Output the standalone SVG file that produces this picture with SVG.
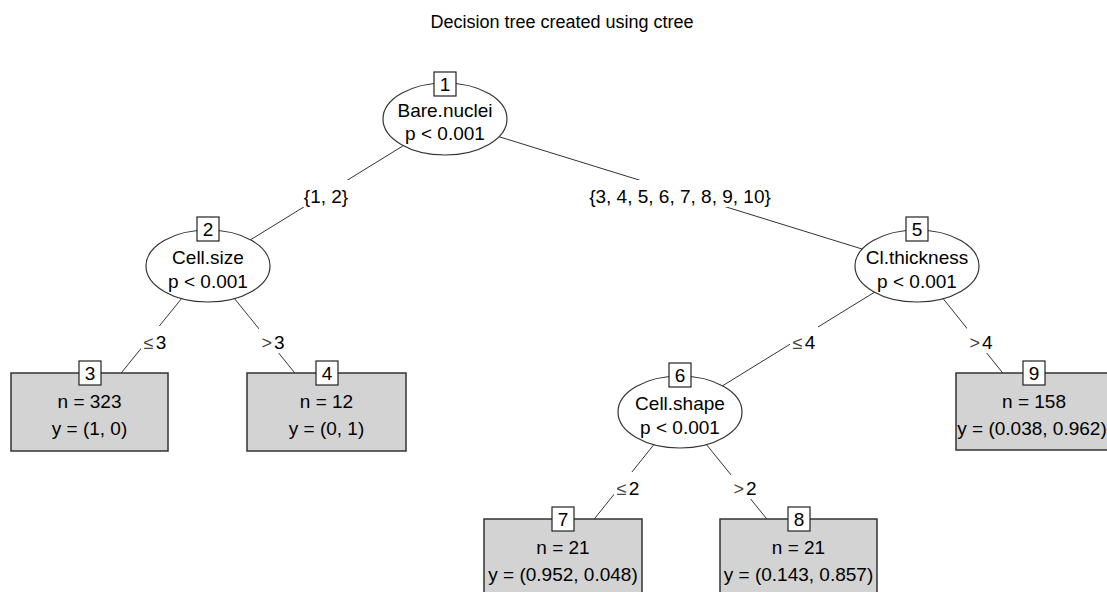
<svg xmlns="http://www.w3.org/2000/svg" width="1107" height="592" viewBox="0 0 1107 592">
  <style>
    text { font-family: "Liberation Sans", Arial, sans-serif; font-size: 19px; fill: #000; text-anchor: middle; }
    .title { font-size: 18px; }
    .edge { stroke: #333; stroke-width: 1; fill: none; }
    .lblbg { fill: #fff; stroke: none; }
    .sym { font-size: 18px; fill: #444; }
    .inner { fill: #fff; stroke: #333; stroke-width: 1.2; }
    .idbox { fill: #fff; stroke: #222; stroke-width: 1.2; }
    .leaf { fill: #d3d3d3; stroke: #333; stroke-width: 1.5; }
  </style>

  <text class="title" x="562" y="28">Decision tree created using ctree</text>

  <!-- connectors: drawn centre to centre, hidden under the nodes -->
  <g id="edges">
    <line class="edge" x1="445" y1="120" x2="208" y2="266"/>
    <line class="edge" x1="445" y1="120" x2="917" y2="266"/>
    <line class="edge" x1="208" y1="266" x2="89.5" y2="412"/>
    <line class="edge" x1="208" y1="266" x2="326.5" y2="412"/>
    <line class="edge" x1="917" y1="266" x2="680" y2="412"/>
    <line class="edge" x1="917" y1="266" x2="1034" y2="412"/>
    <line class="edge" x1="680" y1="412" x2="563" y2="558"/>
    <line class="edge" x1="680" y1="412" x2="798.5" y2="558"/>

    <rect class="lblbg" x="303" y="180" width="46" height="27"/>
    <text x="326" y="203">{1, 2}</text>
    <rect class="lblbg" x="590" y="180" width="180" height="27"/>
    <text x="680" y="203">{3, 4, 5, 6, 7, 8, 9, 10}</text>

    <rect class="lblbg" x="141" y="326" width="28" height="27"/>
    <text x="155" y="349"><tspan class="sym">≤</tspan><tspan dx="2">3</tspan></text>
    <rect class="lblbg" x="259" y="326" width="28" height="27"/>
    <text x="273" y="349"><tspan class="sym">&gt;</tspan><tspan dx="2">3</tspan></text>

    <rect class="lblbg" x="790" y="326" width="28" height="27"/>
    <text x="804" y="349"><tspan class="sym">≤</tspan><tspan dx="2">4</tspan></text>
    <rect class="lblbg" x="967" y="326" width="28" height="27"/>
    <text x="981" y="349"><tspan class="sym">&gt;</tspan><tspan dx="2">4</tspan></text>

    <rect class="lblbg" x="614" y="472" width="28" height="27"/>
    <text x="628" y="495"><tspan class="sym">≤</tspan><tspan dx="2">2</tspan></text>
    <rect class="lblbg" x="731" y="472" width="28" height="27"/>
    <text x="745" y="495"><tspan class="sym">&gt;</tspan><tspan dx="2">2</tspan></text>
  </g>

  <!-- inner nodes -->
  <g id="node1">
    <ellipse class="inner" cx="445" cy="119" rx="62" ry="36"/>
    <rect class="idbox" x="434" y="72" width="22" height="24"/>
    <text x="445" y="91">1</text>
    <text x="445" y="117">Bare.nuclei</text>
    <text x="445" y="140">p &lt; 0.001</text>
  </g>
  <g id="node2">
    <ellipse class="inner" cx="208" cy="266" rx="62" ry="36"/>
    <rect class="idbox" x="197" y="217" width="22" height="24"/>
    <text x="208" y="236">2</text>
    <text x="208" y="264">Cell.size</text>
    <text x="208" y="288">p &lt; 0.001</text>
  </g>
  <g id="node5">
    <ellipse class="inner" cx="917" cy="266" rx="62" ry="36"/>
    <rect class="idbox" x="906" y="217" width="22" height="24"/>
    <text x="917" y="236">5</text>
    <text x="917" y="264">Cl.thickness</text>
    <text x="917" y="288">p &lt; 0.001</text>
  </g>
  <g id="node6">
    <ellipse class="inner" cx="680" cy="412" rx="62" ry="36"/>
    <rect class="idbox" x="669" y="363" width="22" height="24"/>
    <text x="680" y="382">6</text>
    <text x="680" y="410">Cell.shape</text>
    <text x="680" y="434">p &lt; 0.001</text>
  </g>

  <!-- terminal nodes -->
  <g id="node3">
    <rect class="leaf" x="11" y="373" width="157" height="78"/>
    <rect class="idbox" x="79" y="361" width="22" height="24"/>
    <text x="90" y="380">3</text>
    <text x="89.5" y="408">n = 323</text>
    <text x="89.5" y="435">y = (1, 0)</text>
  </g>
  <g id="node4">
    <rect class="leaf" x="247" y="373" width="159" height="78"/>
    <rect class="idbox" x="316" y="361" width="22" height="24"/>
    <text x="327" y="380">4</text>
    <text x="326.5" y="408">n = 12</text>
    <text x="326.5" y="435">y = (0, 1)</text>
  </g>
  <g id="node9">
    <rect class="leaf" x="956" y="373" width="158" height="77"/>
    <rect class="idbox" x="1023" y="361" width="22" height="24"/>
    <text x="1034" y="380">9</text>
    <text x="1034" y="408">n = 158</text>
    <text x="1032" y="435">y = (0.038, 0.962)</text>
  </g>
  <g id="node7">
    <rect class="leaf" x="484" y="519" width="158" height="78"/>
    <rect class="idbox" x="552" y="507" width="22" height="24"/>
    <text x="563" y="526">7</text>
    <text x="563" y="554">n = 21</text>
    <text x="563" y="581">y = (0.952, 0.048)</text>
  </g>
  <g id="node8">
    <rect class="leaf" x="720" y="519" width="157" height="78"/>
    <rect class="idbox" x="788" y="507" width="22" height="24"/>
    <text x="799" y="526">8</text>
    <text x="798.5" y="554">n = 21</text>
    <text x="798.5" y="581">y = (0.143, 0.857)</text>
  </g>
</svg>
